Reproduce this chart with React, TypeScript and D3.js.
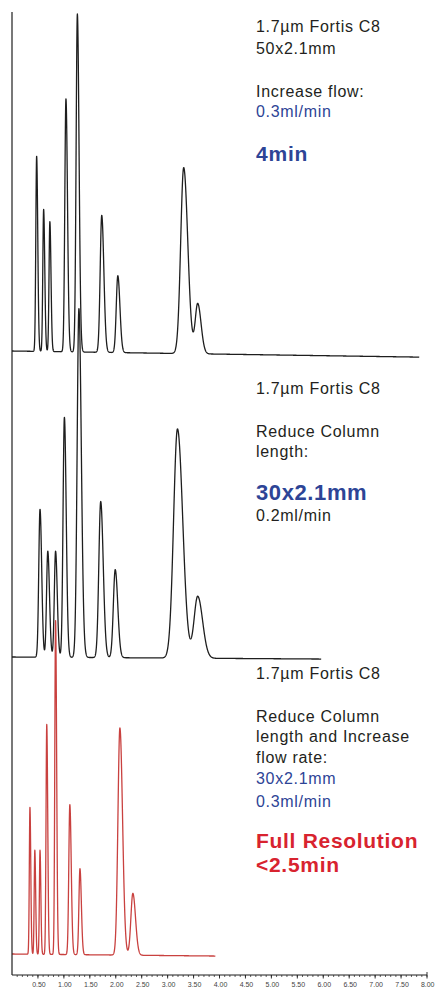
import React from "react";
import * as d3 from "d3";

// ---- Data (retention time in min, peak height in relative units, peak sigma in min) ----
const topTimes = [0.475, 0.61, 0.73, 1.04, 1.26, 1.73, 2.04, 3.31, 3.58];
const topHeights = [57.4, 41.8, 38.2, 74.4, 99.4, 40.3, 22.6, 54.7, 14.7];
const topSigmas = [0.016, 0.016, 0.016, 0.022, 0.024, 0.03, 0.03, 0.058, 0.048];
const topRunEnd = 7.85;
const topDrift = -1.8;

const midTimes = [0.54, 0.69, 0.84, 1.01, 1.29, 1.71, 1.99, 3.19, 3.58];
const midHeights = [43.5, 31.2, 31.2, 70.6, 102.6, 45.9, 25.9, 67.4, 18.2];
const midSigmas = [0.024, 0.024, 0.024, 0.026, 0.034, 0.036, 0.036, 0.075, 0.07];
const midRunEnd = 5.96;
const midDrift = -0.6;

const redTimes = [0.346, 0.44, 0.54, 0.67, 0.84, 1.115, 1.31, 2.08, 2.33];
const redHeights = [43.2, 30.6, 30.6, 67.6, 98.2, 44.1, 25.3, 66.8, 18.2];
const redSigmas = [0.012, 0.012, 0.012, 0.014, 0.015, 0.02, 0.02, 0.038, 0.038];
const redRunEnd = 3.92;
const redDrift = -0.6;

const majorTicks = [0.5, 1, 1.5, 2, 2.5, 3, 3.5, 4, 4.5, 5, 5.5, 6, 6.5, 7, 7.5, 8];
const tickLabels = ["0.50", "1.00", "1.50", "2.00", "2.50", "3.00", "3.50", "4.00", "4.50", "5.00", "5.50", "6.00", "6.50", "7.00", "7.50", "8.00"];

const W = 435;
const H = 989;
const FONT = "'Liberation Sans', Arial, Helvetica, sans-serif";
const BLUE = "#2d4496";
const RED = "#d8232f";
const TXT = "#231f20";

const x = d3.scaleLinear().domain([0, 8]).range([12, 427]);

function trace(times: number[], heights: number[], sigmas: number[], end: number, drift: number) {
  const pts: [number, number][] = [];
  const step = 0.002;
  for (let t = 0; t <= end + 1e-9; t += step) {
    let v = drift * (t / end);
    for (let i = 0; i < times.length; i++) {
      const dt = t - times[i];
      const s = dt < 0 ? sigmas[i] : sigmas[i] * 1.35;
      v += heights[i] * Math.exp(-(dt * dt) / (2 * s * s));
    }
    pts.push([t, v]);
  }
  return pts;
}

function Panel({ times, heights, sigmas, end, drift, baseline, color }: any) {
  const y = d3.scaleLinear().domain([0, 100]).range([baseline, baseline - 340]);
  const line = d3
    .line<[number, number]>()
    .x((d) => x(d[0]))
    .y((d) => y(d[1]));
  const d = line(trace(times, heights, sigmas, end, drift)) || "";
  return <path d={d} fill="none" stroke={color} strokeWidth={1.3} strokeLinejoin="round" />;
}

export default function App() {
  const axisY = 975;
  const minor = d3.range(1, 81).map((i) => i / 10);
  return (
    <svg
      width={W}
      height={H}
      viewBox={`0 0 ${W} ${H}`}
      style={{ position: "absolute", left: 0, top: 0, background: "#fff" }}
    >
      <rect x={0} y={0} width={W} height={H} fill="#fff" />
      {/* traces */}
      <Panel times={topTimes} heights={topHeights} sigmas={topSigmas} end={topRunEnd} drift={topDrift} baseline={351} color="#1e1e1e" />
      <Panel times={midTimes} heights={midHeights} sigmas={midSigmas} end={midRunEnd} drift={midDrift} baseline={657} color="#1e1e1e" />
      <Panel times={redTimes} heights={redHeights} sigmas={redSigmas} end={redRunEnd} drift={redDrift} baseline={954} color="#c9413f" />

      {/* axes */}
      <line x1={x(0)} x2={x(0)} y1={12} y2={axisY} stroke="#1e1e1e" strokeWidth={1.2} />
      <line x1={x(0)} x2={x(8)} y1={axisY} y2={axisY} stroke="#1e1e1e" strokeWidth={1.2} />
      {minor.map((t) => (
        <line key={"m" + t} x1={x(t)} x2={x(t)} y1={axisY} y2={axisY + 2} stroke="#1e1e1e" strokeWidth={0.7} />
      ))}
      {majorTicks.map((t) => (
        <line key={"M" + t} x1={x(t)} x2={x(t)} y1={axisY - (t === 8 ? 3 : 0)} y2={axisY + 3.5} stroke="#1e1e1e" strokeWidth={0.9} />
      ))}
      {majorTicks.map((t, i) => (
        <text
          key={"l" + t}
          x={i === majorTicks.length - 1 ? W - 0.5 : x(t) + 1}
          y={987}
          fontSize={7}
          fontFamily={FONT}
          fill="#444"
          textAnchor={i === majorTicks.length - 1 ? "end" : "middle"}
        >
          {tickLabels[i]}
        </text>
      ))}

      {/* annotations */}
      <g fontFamily={FONT} fill={TXT} fontSize={16} letterSpacing={0.7}>
        <text x={256} y={32}>1.7µm Fortis C8</text>
        <text x={256} y={53.5}>50x2.1mm</text>
        <text x={256} y={96.7}>Increase flow:</text>
        <text x={256} y={117.3} fill={BLUE}>0.3ml/min</text>
        <text x={256} y={161} fill={BLUE} fontSize={21} fontWeight="bold" letterSpacing={0.8}>4min</text>

        <text x={256} y={394.3}>1.7µm Fortis C8</text>
        <text x={256} y={436.7}>Reduce Column</text>
        <text x={256} y={456.7}>length:</text>
        <text x={256} y={500} fill={BLUE} fontSize={22} fontWeight="bold" letterSpacing={0.6}>30x2.1mm</text>
        <text x={256} y={521}>0.2ml/min</text>

        <text x={256} y={679}>1.7µm Fortis C8</text>
        <text x={256} y={721.7}>Reduce Column</text>
        <text x={256} y={742.3}>length and Increase</text>
        <text x={256} y={763.3}>flow rate:</text>
        <text x={256} y={784.3} fill={BLUE}>30x2.1mm</text>
        <text x={256} y={806.7} fill={BLUE}>0.3ml/min</text>
        <text x={256} y={848.3} fill={RED} fontSize={21} fontWeight="bold" letterSpacing={0.7}>Full Resolution</text>
        <text x={256} y={871.7} fill={RED} fontSize={21} fontWeight="bold" letterSpacing={0.7}>&lt;2.5min</text>
      </g>
    </svg>
  );
}
